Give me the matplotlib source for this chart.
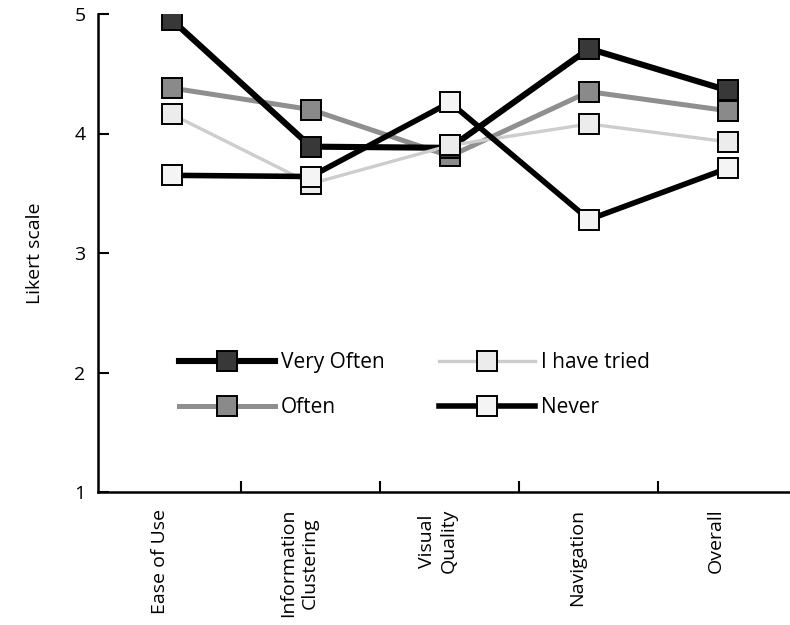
import matplotlib
matplotlib.use("Agg")
import matplotlib.pyplot as plt
import matplotlib.transforms as mtransforms
import numpy as np

plt.rcParams['font.family'] = ['Open Sans', 'DejaVu Sans']

categories = ["Ease of Use", "Information\nClustering", "Visual\nQuality", "Navigation", "Overall"]
very_often = [4.95, 3.89, 3.88, 4.71, 4.36]
often = [4.38, 4.20, 3.81, 4.35, 4.19]
have_tried = [4.16, 3.58, 3.90, 4.08, 3.93]
never = [3.65, 3.64, 4.26, 3.28, 3.71]

fig = plt.figure(figsize=(7.9, 6.25), dpi=100)
ax = fig.add_axes([0.124, 0.2128, 0.876, 0.7648])

x = np.arange(len(categories))
ms = 14
ax.plot(x, often, color="#8f8f8f", lw=3.6, marker="s", ms=ms,
        mfc="#8a8a8a", mec="black", mew=1.4, label="Often", zorder=2)
ax.plot(x, very_often, color="black", lw=4.4, marker="s", ms=ms,
        mfc="#383838", mec="black", mew=1.4, label="Very Often", zorder=3)
ax.plot(x, have_tried, color="#cdcdcd", lw=2.4, marker="s", ms=ms,
        mfc="#ececec", mec="black", mew=1.4, label="I have tried", zorder=4)
ax.plot(x, never, color="black", lw=4.0, marker="s", ms=ms,
        mfc="#f4f4f4", mec="black", mew=1.4, label="Never", zorder=5)

ax.set_xlim(-0.532, 4.446)
ax.set_ylim(1, 5)
ax.set_yticks([1, 2, 3, 4, 5])
ax.tick_params(axis="y", direction="in", length=8, width=1.5, labelsize=14, pad=9)

ax.set_xticks(x)
ax.set_xticklabels(categories, rotation=90, fontsize=14, va="top", ha="center",
                   linespacing=1.3)
ax.tick_params(axis="x", which="major", length=0, pad=12)
shift = mtransforms.ScaledTranslation(-0.12, 0, fig.dpi_scale_trans)
for lbl in ax.get_xticklabels():
    lbl.set_transform(lbl.get_transform() + shift)
ax.set_xticks(x[:-1] + 0.5, minor=True)
ax.tick_params(axis="x", which="minor", direction="in", length=8, width=1.5)

for s in ("top", "right"):
    ax.spines[s].set_visible(False)
for s in ("left", "bottom"):
    ax.spines[s].set_linewidth(1.8)

ax.set_ylabel("Likert scale", fontsize=14, labelpad=22)

handles, labels = ax.get_legend_handles_labels()
order = [1, 0, 2, 3]
ax.legend([handles[i] for i in order], [labels[i] for i in order],
          ncol=2, frameon=False, loc="upper left", bbox_to_anchor=(0.105, 0.31),
          handlelength=4.6, columnspacing=2.6, labelspacing=1.15,
          handletextpad=0.3, fontsize=15, borderaxespad=0)

fig.savefig("out.png", dpi=100)
